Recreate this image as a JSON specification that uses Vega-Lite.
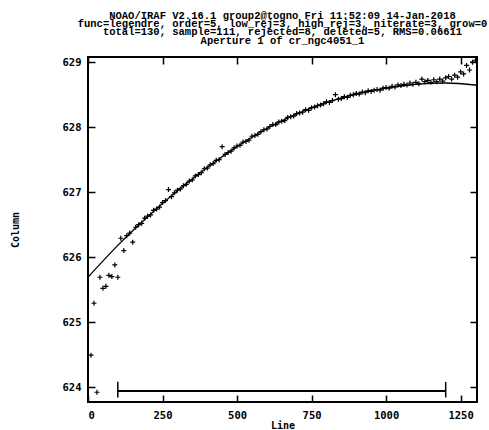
{
  "$schema": "https://vega.github.io/schema/vega-lite/v6.json",
  "width": 389,
  "height": 345,
  "autosize": "none",
  "padding": {"left": 88, "top": 57, "right": 12, "bottom": 28},
  "background": "white",
  "title": {
    "text": [
      "NOAO/IRAF V2.16.1 group2@togno Fri 11:52:09 14-Jan-2018",
      "func=legendre, order=5, low_rej=3, high_rej=3, niterate=3, grow=0",
      "total=130, sample=111, rejected=8, deleted=5, RMS=0.06611",
      "Aperture 1 of cr_ngc4051_1"
    ],
    "font": "Liberation Mono",
    "fontSize": 10.5,
    "fontWeight": "bold",
    "lineHeight": 8.3,
    "color": "black",
    "anchor": "middle",
    "offset": 10
  },
  "config": {
    "view": {"stroke": "black", "strokeWidth": 2},
    "axis": {
      "grid": false,
      "domain": false,
      "tickColor": "black",
      "tickWidth": 1.5,
      "tickSize": -7,
      "labelFont": "DejaVu Sans Mono",
      "labelFontSize": 10.5,
      "labelFontWeight": "bold",
      "labelColor": "black",
      "titleFont": "DejaVu Sans Mono",
      "titleFontSize": 10,
      "titleFontWeight": "bold",
      "titleColor": "black"
    }
  },
  "datasets": {
    "points": [
      {"line": 10, "column": 624.49}, {"line": 20, "column": 625.29}, {"line": 30, "column": 623.92},
      {"line": 40, "column": 625.69}, {"line": 50, "column": 625.52}, {"line": 60, "column": 625.55},
      {"line": 70, "column": 625.72}, {"line": 80, "column": 625.70}, {"line": 90, "column": 625.88},
      {"line": 100, "column": 625.69}, {"line": 110, "column": 626.29}, {"line": 120, "column": 626.10},
      {"line": 130, "column": 626.33}, {"line": 140, "column": 626.37}, {"line": 150, "column": 626.23},
      {"line": 160, "column": 626.46}, {"line": 170, "column": 626.50}, {"line": 180, "column": 626.52},
      {"line": 190, "column": 626.60}, {"line": 200, "column": 626.63}, {"line": 210, "column": 626.65},
      {"line": 220, "column": 626.72}, {"line": 230, "column": 626.74}, {"line": 240, "column": 626.77},
      {"line": 250, "column": 626.84}, {"line": 260, "column": 626.87}, {"line": 270, "column": 627.04},
      {"line": 280, "column": 626.93}, {"line": 290, "column": 626.99}, {"line": 300, "column": 627.03},
      {"line": 310, "column": 627.05}, {"line": 320, "column": 627.10}, {"line": 330, "column": 627.12},
      {"line": 340, "column": 627.17}, {"line": 350, "column": 627.19}, {"line": 360, "column": 627.25},
      {"line": 370, "column": 627.27}, {"line": 380, "column": 627.30}, {"line": 390, "column": 627.36},
      {"line": 400, "column": 627.37}, {"line": 410, "column": 627.42}, {"line": 420, "column": 627.44},
      {"line": 430, "column": 627.49}, {"line": 440, "column": 627.50}, {"line": 450, "column": 627.70},
      {"line": 460, "column": 627.58}, {"line": 470, "column": 627.61}, {"line": 480, "column": 627.63},
      {"line": 490, "column": 627.68}, {"line": 500, "column": 627.71}, {"line": 510, "column": 627.72},
      {"line": 520, "column": 627.77}, {"line": 530, "column": 627.78}, {"line": 540, "column": 627.80},
      {"line": 550, "column": 627.86}, {"line": 560, "column": 627.87}, {"line": 570, "column": 627.89},
      {"line": 580, "column": 627.93}, {"line": 590, "column": 627.96}, {"line": 600, "column": 627.97},
      {"line": 610, "column": 628.01}, {"line": 620, "column": 628.04}, {"line": 630, "column": 628.04},
      {"line": 640, "column": 628.08}, {"line": 650, "column": 628.09}, {"line": 660, "column": 628.10},
      {"line": 670, "column": 628.15}, {"line": 680, "column": 628.16}, {"line": 690, "column": 628.17},
      {"line": 700, "column": 628.21}, {"line": 710, "column": 628.22}, {"line": 720, "column": 628.23},
      {"line": 730, "column": 628.27}, {"line": 740, "column": 628.26}, {"line": 750, "column": 628.30},
      {"line": 760, "column": 628.31}, {"line": 770, "column": 628.33}, {"line": 780, "column": 628.34},
      {"line": 790, "column": 628.36}, {"line": 800, "column": 628.39}, {"line": 810, "column": 628.38},
      {"line": 820, "column": 628.41}, {"line": 830, "column": 628.50}, {"line": 840, "column": 628.43},
      {"line": 850, "column": 628.44}, {"line": 860, "column": 628.47}, {"line": 870, "column": 628.46},
      {"line": 880, "column": 628.49}, {"line": 890, "column": 628.50}, {"line": 900, "column": 628.52},
      {"line": 910, "column": 628.51}, {"line": 920, "column": 628.54}, {"line": 930, "column": 628.53},
      {"line": 940, "column": 628.56}, {"line": 950, "column": 628.55}, {"line": 960, "column": 628.57},
      {"line": 970, "column": 628.58}, {"line": 980, "column": 628.57}, {"line": 990, "column": 628.60},
      {"line": 1000, "column": 628.61}, {"line": 1010, "column": 628.60}, {"line": 1020, "column": 628.63},
      {"line": 1030, "column": 628.62}, {"line": 1040, "column": 628.65}, {"line": 1050, "column": 628.64},
      {"line": 1060, "column": 628.66}, {"line": 1070, "column": 628.65}, {"line": 1080, "column": 628.68},
      {"line": 1090, "column": 628.66}, {"line": 1100, "column": 628.69}, {"line": 1110, "column": 628.67},
      {"line": 1120, "column": 628.74}, {"line": 1130, "column": 628.70}, {"line": 1140, "column": 628.72},
      {"line": 1150, "column": 628.69}, {"line": 1160, "column": 628.73}, {"line": 1170, "column": 628.70},
      {"line": 1180, "column": 628.74}, {"line": 1190, "column": 628.71}, {"line": 1200, "column": 628.76},
      {"line": 1210, "column": 628.78}, {"line": 1220, "column": 628.74}, {"line": 1230, "column": 628.80},
      {"line": 1240, "column": 628.77}, {"line": 1250, "column": 628.85}, {"line": 1260, "column": 628.82},
      {"line": 1270, "column": 628.95}, {"line": 1280, "column": 628.88}, {"line": 1290, "column": 629.00},
      {"line": 1300, "column": 629.03}
    ],
    "fit": [
      {"line": 0, "column": 625.69}, {"line": 100, "column": 626.18}, {"line": 200, "column": 626.62},
      {"line": 300, "column": 627.02}, {"line": 400, "column": 627.38}, {"line": 500, "column": 627.70},
      {"line": 600, "column": 627.98}, {"line": 700, "column": 628.20}, {"line": 800, "column": 628.38},
      {"line": 900, "column": 628.51}, {"line": 1000, "column": 628.60}, {"line": 1100, "column": 628.66},
      {"line": 1200, "column": 628.68}, {"line": 1305, "column": 628.645}
    ],
    "sample": [{"start": 100, "end": 1200}],
    "sampleEdges": [{"edge": 100}, {"edge": 1200}]
  },
  "layer": [
    {
      "data": {"name": "points"},
      "mark": {
        "type": "point",
        "shape": "M -1 0 L 1 0 M 0 -1 L 0 1",
        "filled": false,
        "stroke": "black",
        "strokeWidth": 1.2,
        "size": 25,
        "opacity": 1,
        "clip": true
      },
      "encoding": {
        "x": {
          "field": "line", "type": "quantitative",
          "scale": {"domain": [0, 1305], "nice": false, "zero": false},
          "axis": {"orient": "bottom", "values": [0, 250, 500, 750, 1000, 1250], "format": "d", "title": "Line", "labelPadding": 15, "titlePadding": 0}
        },
        "y": {
          "field": "column", "type": "quantitative",
          "scale": {"domain": [623.77, 629.08], "nice": false, "zero": false},
          "axis": {"orient": "left", "values": [624, 625, 626, 627, 628, 629], "format": "d", "title": "Column", "labelPadding": 14, "titlePadding": 42}
        }
      }
    },
    {
      "data": {"name": "fit"},
      "mark": {"type": "line", "color": "black", "strokeWidth": 1.3, "interpolate": "monotone", "clip": true},
      "encoding": {
        "x": {
          "field": "line", "type": "quantitative",
          "axis": {"orient": "top", "values": [0, 250, 500, 750, 1000, 1250], "labels": false, "title": null}
        },
        "y": {
          "field": "column", "type": "quantitative",
          "axis": {"orient": "right", "values": [624, 625, 626, 627, 628, 629], "labels": false, "title": null}
        }
      }
    },
    {
      "data": {"name": "sample"},
      "mark": {"type": "rule", "color": "black", "strokeWidth": 2},
      "encoding": {
        "x": {"field": "start", "type": "quantitative", "axis": null},
        "x2": {"field": "end"},
        "y": {"datum": 623.94, "type": "quantitative", "axis": null}
      }
    },
    {
      "data": {"name": "sampleEdges"},
      "mark": {"type": "rule", "color": "black", "strokeWidth": 1.5},
      "encoding": {
        "x": {"field": "edge", "type": "quantitative", "axis": null},
        "y": {"datum": 623.84, "type": "quantitative", "axis": null},
        "y2": {"datum": 624.08}
      }
    }
  ],
  "resolve": {"axis": {"x": "independent", "y": "independent"}}
}
